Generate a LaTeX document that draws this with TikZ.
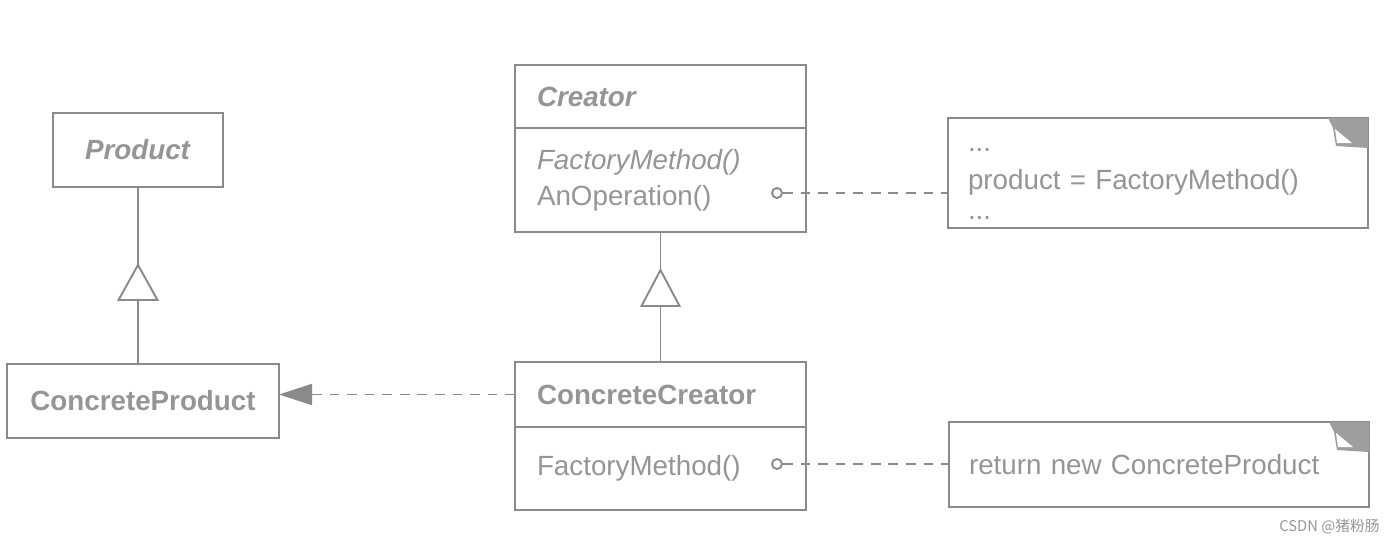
\documentclass[tikz,border=0pt]{standalone}
\usepackage{fontspec}
\setmainfont{Liberation Sans}
\newfontfamily\cjkfont{Noto Sans CJK SC}
\usetikzlibrary{arrows.meta,positioning}
\definecolor{linegray}{HTML}{8A8A8A}
\definecolor{textgray}{HTML}{959595}
\definecolor{foldgray}{HTML}{9E9E9E}
\newcommand\umlfont{\fontsize{15.8}{20.5}\selectfont}
\tikzset{
    umlline/.style={draw=linegray, line width=1.1pt},
    classbox/.style={umlline, fill=white, text=textgray, font=\umlfont, inner sep=0pt, outer sep=0pt},
    memberbox/.style={text width=4.94cm, inner xsep=0.44cm, align=left},
    notebox/.style={classbox, text width=7.6cm, inner xsep=0.4cm, align=left},
    lolly/.style={circle, umlline, fill=white, minimum size=0.2cm, inner sep=0pt},
    umldash/.style={umlline, dash pattern=on 5.5pt off 4.5pt},
}
\begin{document}
\begin{tikzpicture}
    % canvas
    \useasboundingbox (0,0) rectangle (27.88,-10.88);
    % product classes
    \node [classbox, minimum width=3.4cm, minimum height=1.48cm] (product) at (2.76,-3.0) {\textbf{\textit{Product}}};
    \node [classbox, minimum width=5.44cm, minimum height=1.48cm] (concreteproduct) at (2.86,-8.02) {\textbf{ConcreteProduct}};
    % creator classes
    \node [classbox, memberbox, minimum height=1.26cm] (creatorhead) at (13.21,-1.93) {\textbf{\textit{Creator}}};
    \node [classbox, memberbox, minimum height=2.08cm, below=0pt of creatorhead] (creatorbody) {\textit{FactoryMethod()}\\AnOperation()};
    \node [classbox, memberbox, minimum height=1.3cm] (cchead) at (13.21,-7.89) {\textbf{ConcreteCreator}};
    \node [classbox, memberbox, minimum height=1.66cm, below=0pt of cchead] (ccbody) {FactoryMethod()};
    % notes
    \node [notebox, minimum height=2.2cm] (note1) at (23.16,-3.46) {\strut...\\[1pt]product = FactoryMethod()\\[-3pt]...};
    \node [notebox, minimum height=1.7cm] (note2) at (23.18,-9.29) {return new ConcreteProduct};
    % folded note corners
    \foreach \n in {note1,note2} {
        \fill [foldgray] (\n.north east) -- ++(-0.8,0) -- ++(0.1,-0.2) -- ++(0.06,-0.36) -- ++(0.64,-0.04) -- cycle;
        \fill [white] ([shift={(-0.66,-0.22)}]\n.north east) -- ++(0.04,-0.28) -- ++(0.3,0) -- cycle;
    }
    % note links
    \node [lolly] (op1) at (15.54,-3.86) {};
    \node [lolly] (op2) at (15.54,-9.28) {};
    \draw [umldash] (op1) -- (op1 -| note1.west);
    \draw [umldash] (op2) -- (op2 -| note2.west);
    % inheritance triangles
    \coordinate (tip1) at ([yshift=-1.56cm]product.south);
    \coordinate (base1) at ([yshift=-0.7cm]tip1);
    \coordinate (tip2) at ([yshift=-0.76cm]creatorbody.south);
    \coordinate (base2) at ([yshift=-0.72cm]tip2);
    \draw [umlline] (product.south) -- (tip1);
    \draw [umlline] (tip1) -- ([xshift=0.39cm]base1) -- ([xshift=-0.39cm]base1) -- cycle;
    \draw [umlline] (base1) -- (base1 |- concreteproduct.north);
    \draw [umlline] (creatorbody.south) -- (tip2);
    \draw [umlline] (tip2) -- ([xshift=0.38cm]base2) -- ([xshift=-0.38cm]base2) -- cycle;
    \draw [umlline] (base2) -- (base2 |- cchead.north);
    % creates dependency
    \draw [umldash, -{Triangle[length=0.66cm, width=0.42cm]}] (cchead.west) -- (cchead.west -| concreteproduct.east);
    % watermark
    \node [text=textgray, font=\cjkfont\fontsize{8.4}{10}\selectfont] (mark) at (26.59,-10.54) {CSDN @猪粉肠};
\end{tikzpicture}
\end{document}
